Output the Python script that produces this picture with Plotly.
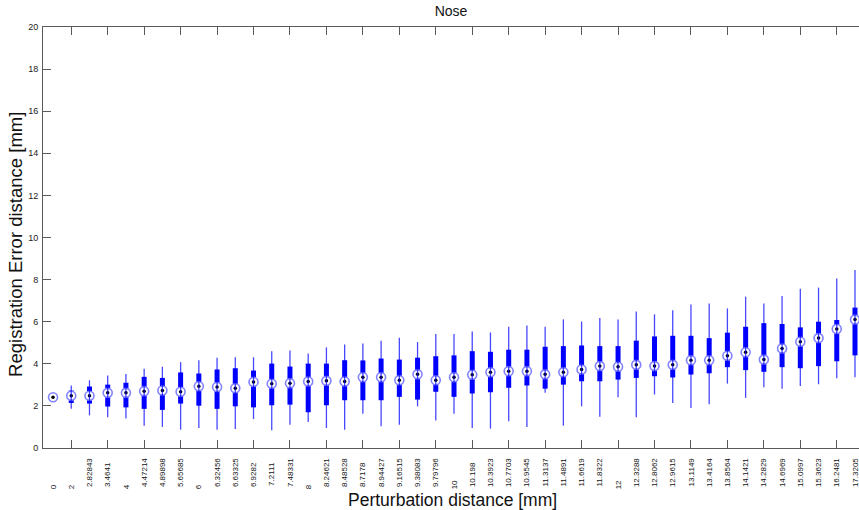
import plotly.graph_objects as go

labels = ["0", "2", "2.82843", "3.4641", "4", "4.47214", "4.89898", "5.65685", "6",
          "6.32456", "6.63325", "6.9282", "7.2111", "7.48331", "8", "8.24621", "8.48528",
          "8.7178", "8.94427", "9.16515", "9.38083", "9.79796", "10", "10.198", "10.3923",
          "10.7703", "10.9545", "11.3137", "11.4891", "11.6619", "11.8322", "12", "12.3288",
          "12.8062", "12.9615", "13.1149", "13.4164", "13.8564", "14.1421", "14.2829",
          "14.6969", "15.0997", "15.3623", "16.2481", "17.3205"]

lower_whisker = [2.41, 1.87, 1.55, 1.46, 1.40, 1.06, 1.00, 0.87, 0.95, 0.87,
                 0.90, 1.38, 0.84, 1.11, 1.24, 0.95, 0.87, 1.63, 1.03, 1.11,
                 1.98, 1.31, 1.63, 0.95, 0.92, 1.27, 1.00, 2.62, 1.06, 1.98,
                 1.48, 2.41, 1.46, 2.54, 2.14, 1.90, 2.08, 3.06, 2.38, 2.89,
                 2.81, 2.95, 3.03, 3.31, 3.36]
q1 = [2.41, 2.14, 2.11, 1.97, 1.93, 1.86, 1.81, 2.11, 2.01, 1.86,
      1.98, 1.93, 2.03, 2.06, 1.70, 2.03, 2.27, 2.27, 2.27, 2.43,
      2.30, 2.67, 2.43, 2.59, 2.65, 2.86, 2.97, 2.82, 3.01, 3.17,
      3.17, 3.25, 3.33, 3.41, 3.35, 3.49, 3.55, 3.84, 3.70, 3.62,
      3.84, 3.79, 3.89, 4.12, 4.40]
median = [2.41, 2.48, 2.48, 2.62, 2.62, 2.70, 2.73, 2.67, 2.93, 2.90,
          2.84, 3.14, 3.05, 3.08, 3.16, 3.19, 3.16, 3.36, 3.36, 3.22,
          3.50, 3.22, 3.36, 3.48, 3.60, 3.65, 3.65, 3.50, 3.60, 3.73,
          3.89, 3.86, 3.95, 3.89, 3.95, 4.17, 4.17, 4.38, 4.55, 4.20,
          4.73, 5.05, 5.22, 5.65, 6.10]
q3 = [2.41, 2.73, 2.92, 3.01, 3.10, 3.38, 3.33, 3.59, 3.54, 3.73,
      3.79, 3.68, 4.01, 3.87, 4.01, 4.01, 4.17, 4.16, 4.25, 4.20,
      4.29, 4.36, 4.40, 4.60, 4.57, 4.67, 4.67, 4.81, 4.84, 4.87,
      4.84, 4.84, 5.10, 5.30, 5.33, 5.33, 5.22, 5.48, 5.76, 5.93,
      5.89, 5.73, 6.00, 6.08, 6.67]
upper_whisker = [2.41, 2.97, 3.22, 3.44, 3.52, 3.76, 3.86, 4.08, 4.17, 4.29,
                 4.31, 4.31, 4.60, 4.63, 4.49, 4.78, 4.92, 4.97, 5.10, 5.24,
                 5.03, 5.41, 5.41, 5.54, 5.49, 5.76, 5.82, 5.76, 6.11, 6.01,
                 6.17, 6.11, 6.48, 6.35, 6.54, 6.82, 6.86, 6.63, 7.19, 6.87,
                 7.22, 7.57, 7.62, 8.05, 8.46]

y_ticks = list(range(0, 21, 2))

n = len(labels)
pos = list(range(1, n + 1))
maxlen = max(len(s) for s in labels)
padded = [s + "\u2007" * (maxlen - len(s)) for s in labels]

def segs(lo, hi):
    xs, ys = [], []
    for k, a, b in zip(pos, lo, hi):
        xs += [k, k, None]
        ys += [a, b, None]
    return xs, ys

wx, wy = segs(lower_whisker, upper_whisker)
bx, by = segs(q1, q3)

fig = go.Figure()
fig.add_trace(go.Scatter(x=wx, y=wy, mode="lines", xaxis="x2",
                         line=dict(color="rgba(0,0,255,0.72)", width=1.3),
                         hoverinfo="skip", showlegend=False))
fig.add_trace(go.Scatter(x=bx, y=by, mode="lines",
                         line=dict(color="#0000ff", width=5),
                         hoverinfo="skip", showlegend=False))
fig.add_trace(go.Scatter(x=pos, y=median, mode="markers",
                         marker=dict(symbol="circle", size=9, color="white",
                                     line=dict(color="rgb(130,130,255)", width=1.6)),
                         hoverinfo="skip", showlegend=False))
fig.add_trace(go.Scatter(x=pos, y=median, mode="markers",
                         marker=dict(symbol="circle", size=3.5, color="black"),
                         hoverinfo="skip", showlegend=False))

axis_color = "#5a5a5a"
font_family = "Liberation Sans, Arial, DejaVu Sans, sans-serif"
xr = [0.45, 45.22]

fig.update_layout(
    width=859, height=510,
    margin=dict(l=43, r=0, t=27, b=62, pad=0),
    paper_bgcolor="white", plot_bgcolor="white",
    font=dict(family=font_family, color="#222"),
    title=dict(text="Nose", x=0.5, xref="paper", xanchor="center",
               y=1 - 11 / 510, yref="container", yanchor="middle",
               font=dict(size=14, color="#111")),
    xaxis=dict(range=xr, tickmode="array", tickvals=pos, ticktext=padded,
               tickangle=-90, ticks="", showgrid=False, zeroline=False,
               showline=True, linecolor=axis_color, linewidth=1, mirror=True,
               tickfont=dict(size=8, color="#111"), ticklabelstandoff=6,
               ticklabeloverflow="allow"),
    xaxis2=dict(range=xr, overlaying="x", anchor="y", side="bottom",
                tickmode="array", tickvals=pos[1::2], ticks="inside", ticklen=8,
                tickcolor=axis_color, showticklabels=False, showgrid=False,
                zeroline=False, showline=True, linecolor=axis_color, mirror="ticks"),
    yaxis=dict(range=[0, 20], tickmode="array", tickvals=y_ticks,
               ticks="inside", ticklen=8, tickcolor=axis_color,
               showgrid=False, zeroline=False, showline=True,
               linecolor=axis_color, linewidth=1,
               tickfont=dict(size=9, color="#222"), ticklabelstandoff=2),
    annotations=[
        dict(text="Perturbation distance [mm]", xref="paper", yref="paper",
             x=0.502, y=-0.124, xanchor="center", yanchor="middle",
             showarrow=False, font=dict(size=17.5, color="#111")),
        dict(text="Registration Error distance [mm]", xref="paper", yref="paper",
             x=-0.034, y=0.483, xanchor="center", yanchor="middle",
             textangle=-90, showarrow=False, font=dict(size=18.5, color="#111")),
    ],
)

fig.write_html("out.html")
